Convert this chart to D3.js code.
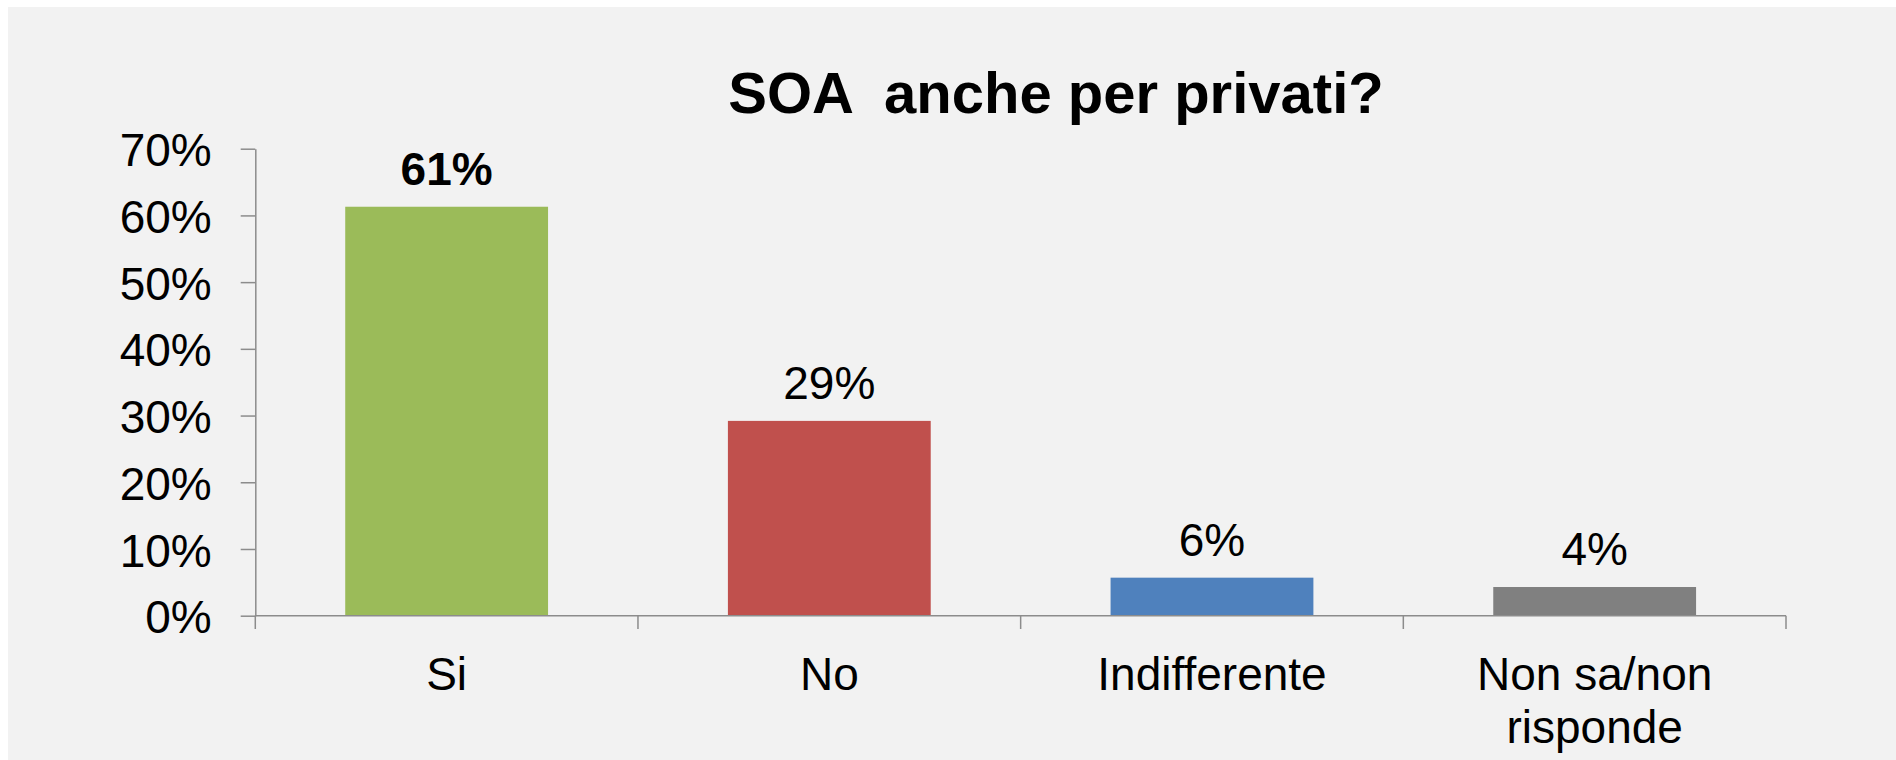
<!DOCTYPE html>
<html lang="it">
<head>
  <meta charset="UTF-8">
  <title>SOA anche per privati?</title>
  <script src="https://cdn.jsdelivr.net/npm/d3@7/dist/d3.min.js"></script>
  <style>
    body { margin: 0; background: #ffffff; }
    svg text { font-family: "Liberation Sans", Arial, sans-serif; fill: #000; }
  </style>
</head>
<body>
  <div id="chart"></div>
  <script>
    // chart data
    var categories = ["Si", "No", "Indifferente", "Non sa/non risponde"];
    var values = [0.613, 0.292, 0.057, 0.043];
    var colors = ["#9bbb59", "#c0504d", "#4f81bd", "#808080"];
    var yTicks = [0, 0.1, 0.2, 0.3, 0.4, 0.5, 0.6, 0.7];
    var boldLabel = [true, false, false, false];
    var title = "SOA  anche per privati?";

    var width = 1896, height = 760;
    var margin = { top: 148.7, left: 255.3, right: 110, bottom: 144.3 };
    var axisColor = "#8c8c8c";

    var svg = d3.select("#chart").append("svg")
      .attr("width", width)
      .attr("height", height);

    // gray panel
    svg.append("rect")
      .attr("x", 8)
      .attr("y", 7)
      .attr("width", width - 8)
      .attr("height", height - 7)
      .attr("fill", "#f2f2f2");

    var x = d3.scaleBand()
      .domain(categories)
      .range([margin.left, width - margin.right])
      .paddingInner(0.47)
      .paddingOuter(0.235);

    var y = d3.scaleLinear()
      .domain([0, 0.7])
      .range([height - margin.bottom, margin.top]);

    // title
    svg.append("text")
      .attr("x", 1056)
      .attr("y", 112.7)
      .attr("text-anchor", "middle")
      .style("font-size", "58px")
      .style("font-weight", "bold")
      .style("white-space", "pre")
      .text(title);

    // bars
    svg.selectAll(".bar")
      .data(values)
      .enter().append("rect")
      .attr("class", "bar")
      .attr("x", function(d, i) { return x(categories[i]); })
      .attr("width", x.bandwidth())
      .attr("y", function(d) { return y(d); })
      .attr("height", function(d) { return y(0) - y(d); })
      .attr("fill", function(d, i) { return colors[i]; });

    // y axis
    var yAxis = svg.append("g")
      .attr("transform", "translate(" + margin.left + ",0)")
      .call(d3.axisLeft(y)
        .tickValues(yTicks)
        .tickFormat(d3.format(".0%"))
        .tickSize(14.6)
        .tickPadding(29)
        .tickSizeOuter(0));
    yAxis.select(".domain").attr("stroke", axisColor).attr("stroke-width", 1.5);
    yAxis.selectAll(".tick line").attr("stroke", axisColor).attr("stroke-width", 1.5);
    yAxis.selectAll(".tick text")
      .attr("dy", "0.37em")
      .style("font-size", "46px")
      .style("font-family", "'Liberation Sans', Arial, sans-serif")
      .attr("fill", "#000");

    // x axis: baseline with ticks at band boundaries
    var xg = svg.append("g");
    xg.append("line")
      .attr("x1", margin.left)
      .attr("x2", width - margin.right)
      .attr("y1", y(0))
      .attr("y2", y(0))
      .attr("stroke", axisColor)
      .attr("stroke-width", 1.5);
    var boundaries = categories.map(function(c) { return x(c) - x.step() * x.paddingInner() / 2; });
    boundaries.push(width - margin.right);
    xg.selectAll(".xtick")
      .data(boundaries)
      .enter().append("line")
      .attr("class", "xtick")
      .attr("x1", function(d) { return d; })
      .attr("x2", function(d) { return d; })
      .attr("y1", y(0))
      .attr("y2", y(0) + 13.3)
      .attr("stroke", axisColor)
      .attr("stroke-width", 1.5);

    // category labels (wrap "Non sa/non risponde")
    var catLines = [["Si"], ["No"], ["Indifferente"], ["Non sa/non", "risponde"]];
    var catText = svg.selectAll(".cat")
      .data(categories)
      .enter().append("text")
      .attr("class", "cat")
      .attr("text-anchor", "middle")
      .style("font-size", "46px")
      .attr("transform", function(d) {
        return "translate(" + (x(d) + x.bandwidth() / 2) + ",690)";
      });
    catText.each(function(d, i) {
      var t = d3.select(this);
      catLines[i].forEach(function(line, j) {
        t.append("tspan")
          .attr("x", 0)
          .attr("y", j * 53)
          .text(line);
      });
    });

    // value labels
    svg.selectAll(".val")
      .data(values)
      .enter().append("text")
      .attr("class", "val")
      .attr("text-anchor", "middle")
      .attr("x", function(d, i) { return x(categories[i]) + x.bandwidth() / 2; })
      .attr("y", function(d) { return y(d) - 22; })
      .style("font-size", "46px")
      .style("font-weight", function(d, i) { return boldLabel[i] ? "bold" : "normal"; })
      .text(function(d) { return d3.format(".0%")(d); });
  </script>
</body>
</html>
